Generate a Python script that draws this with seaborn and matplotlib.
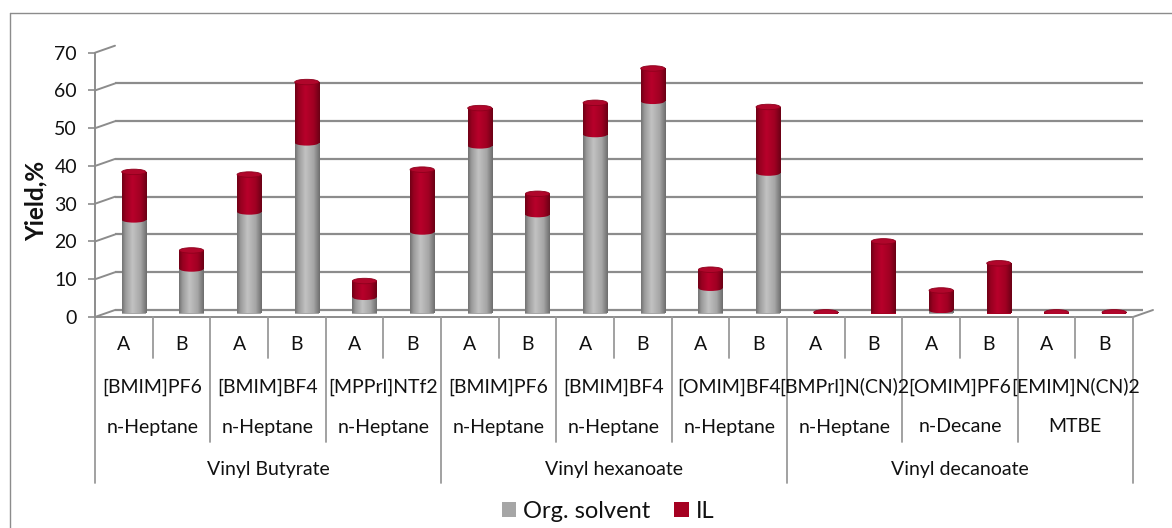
import numpy as np
import pandas as pd
import matplotlib
matplotlib.use("Agg")
import matplotlib.pyplot as plt
import matplotlib.transforms as mtransforms
from matplotlib.colors import LinearSegmentedColormap
from matplotlib.patches import Ellipse, Patch
from matplotlib.lines import Line2D
import seaborn as sns

# ---- data -------------------------------------------------------------
substrates = ["Vinyl Butyrate", "Vinyl hexanoate", "Vinyl decanoate"]
ionic_liquids = ["[BMIM]PF6", "[BMIM]BF4", "[MPPrl]NTf2",
                 "[BMIM]PF6", "[BMIM]BF4", "[OMIM]BF4",
                 "[BMPrl]N(CN)2", "[OMIM]PF6", "[EMIM]N(CN)2"]
solvents = ["n-Heptane", "n-Heptane", "n-Heptane",
            "n-Heptane", "n-Heptane", "n-Heptane",
            "n-Heptane", "n-Decane", "MTBE"]
variants = ["A", "B"]
org_solvent = [24.8, 11.8, 26.9, 45.2, 4.3, 21.6,
               44.4, 26.2, 47.4, 56.2, 6.7, 37.2,
               0.0, 0.0, 0.8, 0.0, 0.0, 0.0]
il_yield = [12.7, 4.9, 9.9, 16.1, 4.3, 16.5,
            10.0, 5.5, 8.4, 8.7, 4.9, 17.5,
            0.3, 19.1, 5.3, 13.3, 0.3, 0.3]
y_ticks = [0, 10, 20, 30, 40, 50, 60, 70]
series_names = ["Org. solvent", "IL"]

rows = []
for p, (il, solv) in enumerate(zip(ionic_liquids, solvents)):
    for v in variants:
        i = len(rows)
        rows.append(dict(key=f"{p}-{v}", substrate=substrates[p // 3], il=il,
                         solvent=solv, variant=v, org=org_solvent[i],
                         il_part=il_yield[i]))
df = pd.DataFrame(rows)
df["total"] = df["org"] + df["il_part"]
n = len(df)

# ---- style ------------------------------------------------------------
sns.set_style("white")
plt.rcParams["font.family"] = ["Lato", "DejaVu Sans"]
GRAY = "#a6a6a6"
RED = "#a50021"
LINE = "#8c8c8c"
TXT = "#111111"

W, H = 1172, 528
fig = plt.figure(figsize=(W / 100, H / 100), dpi=100)

# front plane of the 3-D box (axis labels) and the bar plane slightly behind it
fx0, fx1, fy0, fy1 = 95, 1133, 317, 52.7          # pixel frame of the front plane
dx, dy = 10, 3.5                                   # depth shift of the bar plane
ax_front = fig.add_axes([fx0 / W, (H - fy0) / H, (fx1 - fx0) / W, (fy0 - fy1) / H])
ax = fig.add_axes([(fx0 + dx) / W, (H - fy0 + dy) / H, (fx1 - fx0) / W, (fy0 - fy1) / H])
ax.set_zorder(ax_front.get_zorder() + 1)
ax.patch.set_alpha(0)

for a in (ax, ax_front):
    a.set_xlim(-0.5, n - 0.5)
    a.set_ylim(0, 70)
ppu = (fy0 - fy1) / 70.0                           # pixels per yield unit

# back-wall gridlines (shifted once more into depth)
back = mtransforms.ScaledTranslation(dx / 100, dy / 100, fig.dpi_scale_trans)
for t in y_ticks:
    ax.plot([0, 1], [t, t], transform=ax.get_yaxis_transform() + back,
            color=LINE, lw=1.6, zorder=0.5, solid_capstyle="butt")
# floor: front edge and right side
ax_front.plot([0, 1], [0, 0], transform=ax_front.get_yaxis_transform(),
              color=LINE, lw=1.4, clip_on=False)
ax_front.plot([1, 1 + 2 * dx / (fx1 - fx0)], [0, 2 * dy / ppu],
              transform=ax_front.get_yaxis_transform(), color=LINE, lw=1.4, clip_on=False)
# side-wall diagonals from the front axis to the back wall
for t in y_ticks:
    ax_front.plot([0, 2 * dx / (fx1 - fx0)], [t, t + 2 * dy / ppu],
                  transform=ax_front.get_yaxis_transform(), color=LINE, lw=1.4,
                  clip_on=False)

# ---- bars ---------------------------------------------------------------
bw = 0.42
sns.barplot(data=df, x="key", y="total", color=RED, saturation=1, width=bw,
            errorbar=None, ax=ax, zorder=2.1, linewidth=0)
sns.barplot(data=df, x="key", y="org", color=GRAY, saturation=1, width=bw,
            errorbar=None, ax=ax, zorder=2.2, linewidth=0)

gray_cmap = LinearSegmentedColormap.from_list(
    "cyl_gray", [(0, "#727272"), (0.15, "#9c9c9c"), (0.42, "#c2c2c2"),
                 (0.75, "#a6a6a6"), (1, "#6c6c6c")])
red_cmap = LinearSegmentedColormap.from_list(
    "cyl_red", [(0, "#6f0016"), (0.15, "#980020"), (0.42, "#b8002b"),
                (0.75, "#a00022"), (1, "#6a0015")])
grad = np.linspace(0, 1, 128)[None, :]
eh = 5.5 / ppu                                      # ellipse height in data units


def shade(clip, x0, x1, y0, y1, cmap, z):
    im = ax.imshow(grad, cmap=cmap, extent=(x0, x1, y0, y1), aspect="auto",
                   interpolation="bilinear", zorder=z)
    im.set_clip_path(clip)


patches = ax.patches
red_bars, gray_bars = patches[:n], patches[n:2 * n]
for rb, gb, org, tot in zip(red_bars, gray_bars, df["org"], df["total"]):
    x0, w = rb.get_x(), rb.get_width()
    xc = x0 + w / 2
    if org > 0:
        e = Ellipse((xc, 0), w, eh, fc="none", ec="none")
        ax.add_patch(e)
        shade(e, x0, x0 + w, -eh, eh, gray_cmap, 2.0)
        shade(gb, x0, x0 + w, 0, org, gray_cmap, 2.25)
    shade(rb, x0, x0 + w, org, tot, red_cmap, 2.15)
    eb = Ellipse((xc, org), w, eh, fc="none", ec="none")
    ax.add_patch(eb)
    shade(eb, x0, x0 + w, org - eh, org + eh, red_cmap, 2.4)
    ax.add_patch(Ellipse((xc, tot), w, eh, fc="#b0062b", ec="#8d001c",
                         lw=0.6, zorder=2.5))

ax.set_xlim(-0.5, n - 0.5)
ax.set_ylim(0, 70)
ax.axis("off")

# ---- front axis -----------------------------------------------------------
ax_front.set_facecolor("none")
for s in ("top", "right", "bottom"):
    ax_front.spines[s].set_visible(False)
ax_front.spines["left"].set_color(LINE)
ax_front.spines["left"].set_linewidth(1.4)
ax_front.set_yticks(y_ticks)
ax_front.set_yticklabels([str(t) for t in y_ticks])
ax_front.tick_params(axis="y", length=5, width=1.2, color=LINE, pad=8,
                     labelsize=14, labelcolor=TXT, left=True)
ax_front.set_xticks([])
ax_front.set_ylabel("Yield,%", fontsize=17.5, fontweight="bold", color=TXT)
ax_front.yaxis.set_label_coords(-(fx0 - 48) / (fx1 - fx0), 0.44)

# ---- multi-level category table -------------------------------------------
px = mtransforms.Affine2D().scale(1 / W, -1 / H).translate(0, 1) + fig.transFigure
tb = mtransforms.blended_transform_factory(ax_front.transData, px)
sep_kw = dict(transform=tb, color="#9a9a9a", lw=1.3, clip_on=False)

for i, v in enumerate(df["variant"]):
    ax_front.text(i, 345, v, transform=tb, ha="center", va="center",
                  fontsize=14, color=TXT)
for p in range(len(ionic_liquids)):
    xc = 2 * p + 0.5
    ax_front.text(xc, 387, ionic_liquids[p], transform=tb, ha="center",
                  va="center", fontsize=14, color=TXT)
    ax_front.text(xc, 427, solvents[p], transform=tb, ha="center",
                  va="center", fontsize=14, color=TXT)
    ax_front.plot([2 * p + 0.5] * 2, [fy0, 358], **sep_kw)
    if p % 3:
        ax_front.plot([2 * p - 0.5] * 2, [fy0, 442], **sep_kw)
for g, sub in enumerate(substrates):
    ax_front.text(6 * g + 2.5, 470, sub, transform=tb, ha="center",
                  va="center", fontsize=14, color=TXT)
for b in range(len(substrates) + 1):
    ax_front.plot([6 * b - 0.5] * 2, [fy0, 483], **sep_kw)

# ---- legend -------------------------------------------------------------
handles = [Patch(fc=GRAY, ec="none"), Patch(fc=RED, ec="none")]
fig.legend(handles, series_names, loc="center", bbox_to_anchor=(608 / W, 1 - 511 / H),
           ncol=2, frameon=False, fontsize=17, handlelength=0.62, handleheight=0.62,
           handletextpad=0.3, columnspacing=1.0, borderpad=0, labelcolor=TXT)

# chart-area border
fig.add_artist(Line2D([10 / W, 10 / W], [0, 1 - 13 / H], color=LINE, lw=1.0))
fig.add_artist(Line2D([10 / W, 1], [1 - 13 / H, 1 - 13 / H], color=LINE, lw=1.0))

fig.savefig("out.png", dpi=100)
